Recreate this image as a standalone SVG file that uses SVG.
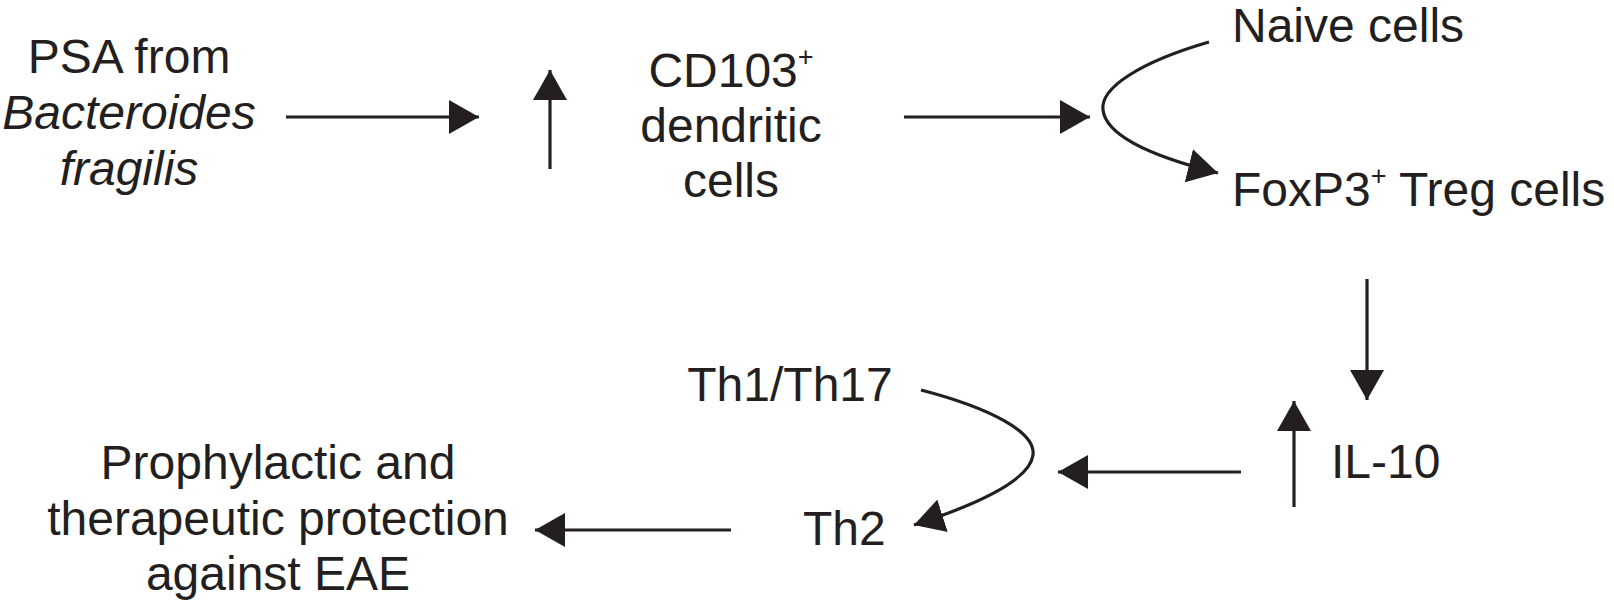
<svg xmlns="http://www.w3.org/2000/svg" width="1614" height="607" viewBox="0 0 1614 607">
<style>
.t{font-family:"Liberation Sans",Arial,Helvetica,sans-serif;font-size:48px;fill:#231f20}
.i{font-style:italic}
.c{stroke:#231f20;stroke-width:3.2;fill:none}
.sup{font-size:27px}
</style>
<defs>
<marker id="ah" markerUnits="userSpaceOnUse" markerWidth="32" markerHeight="34" refX="30" refY="17" orient="auto" viewBox="0 0 32 34">
<path d="M0,0 L30,17 L0,34 z" fill="#231f20"/>
</marker>
</defs>
<rect width="1614" height="607" fill="#fff"/>
<g id="psa">
<text class="t" x="129" y="73" text-anchor="middle">PSA from</text>
<text class="t i" x="129" y="129" text-anchor="middle">Bacteroides</text>
<text class="t i" x="129" y="185" text-anchor="middle">fragilis</text>
</g>
<g id="cd103">
<text class="t" x="731" y="87" text-anchor="middle">CD103<tspan class="sup" dy="-21">+</tspan></text>
<text class="t" x="731" y="142" text-anchor="middle">dendritic</text>
<text class="t" x="731" y="197" text-anchor="middle">cells</text>
</g>
<g id="naive">
<text class="t" x="1232" y="42">Naive cells</text>
</g>
<g id="foxp3">
<text class="t" x="1232" y="206">FoxP3<tspan class="sup" dy="-21">+</tspan><tspan dy="21"> Treg cells</tspan></text>
</g>
<g id="il10">
<text class="t" x="1331" y="478">IL-10</text>
</g>
<g id="th1th17">
<text class="t" x="790" y="401" text-anchor="middle">Th1/Th17</text>
</g>
<g id="th2">
<text class="t" x="803" y="545">Th2</text>
</g>
<g id="eae">
<text class="t" x="278" y="479" text-anchor="middle">Prophylactic and</text>
<text class="t" x="278" y="535" text-anchor="middle">therapeutic protection</text>
<text class="t" x="278" y="590" text-anchor="middle">against EAE</text>
</g>
<g id="connectors">
<line class="c" x1="286" y1="117" x2="479" y2="117" marker-end="url(#ah)"/>
<line class="c" x1="550" y1="169" x2="550" y2="70" marker-end="url(#ah)"/>
<line class="c" x1="904" y1="117" x2="1090" y2="117" marker-end="url(#ah)"/>
<path class="c" d="M1209,42 C1140,62 1100,88 1103,110 C1106,135 1150,156 1218,173" marker-end="url(#ah)"/>
<line class="c" x1="1367" y1="279" x2="1367" y2="400" marker-end="url(#ah)"/>
<line class="c" x1="1294" y1="507" x2="1294" y2="401" marker-end="url(#ah)"/>
<line class="c" x1="1241" y1="472" x2="1058" y2="472" marker-end="url(#ah)"/>
<path class="c" d="M921,390 C990,408 1036,432 1033,455 C1030,478 985,502 914,525" marker-end="url(#ah)"/>
<line class="c" x1="731" y1="530" x2="535" y2="530" marker-end="url(#ah)"/>
</g>
</svg>
